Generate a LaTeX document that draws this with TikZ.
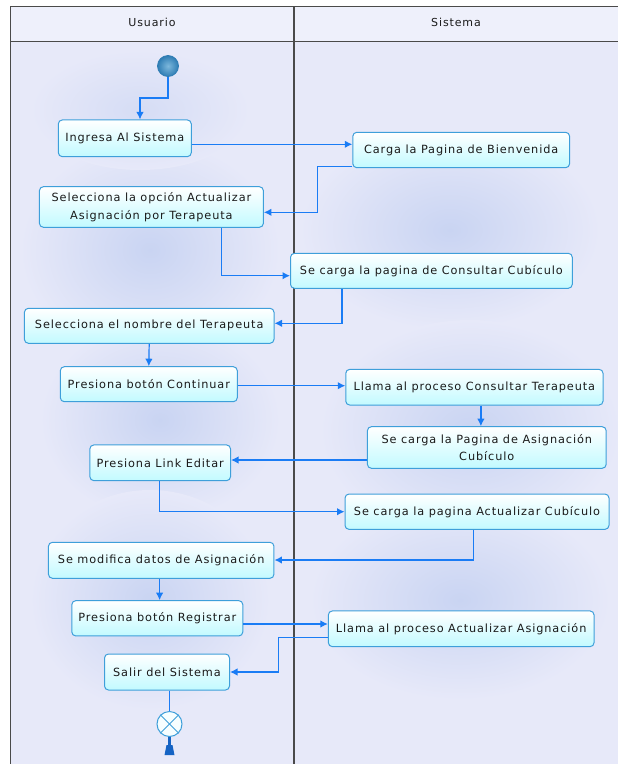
\documentclass[tikz,border=0pt]{standalone}
\usepackage{fontspec}
\setmainfont{DejaVu Sans}[LetterSpace=8]
\usetikzlibrary{arrows.meta,calc}
\definecolor{bgc}{HTML}{E7E9F9}
\definecolor{hdrc}{HTML}{EEF0FB}
\definecolor{blobc}{HTML}{C9D4F2}
\definecolor{framec}{HTML}{4A4A4A}
\definecolor{boxb}{HTML}{3E9FDA}
\definecolor{boxf}{HTML}{C2FAFF}
\definecolor{arrc}{HTML}{1A7CF5}
\definecolor{startc}{HTML}{2F7DB4}
\definecolor{startl}{HTML}{7DB8DC}
\definecolor{txtc}{HTML}{1A1A1A}
\begin{document}
\begin{tikzpicture}[x=1pt,y=-1pt,
  act/.style={draw=boxb, line width=1pt, rounded corners=4pt,
    top color=white, bottom color=boxf, align=center, inner sep=0pt,
    text=txtc, font=\fontsize{11.3}{17.5}\selectfont},
  arr/.style={draw=arrc, line width=1.2pt, -{Latex[length=7.5pt,width=7.5pt]}},
  plain/.style={draw=arrc, line width=1.2pt},
  frame/.style={draw=framec, line width=1.3pt},
  hdr/.style={font=\fontsize{11}{12}\selectfont, inner sep=0pt, text=txtc}]
\useasboundingbox (0,0) rectangle (618,764);
\fill[white] (0,0) rectangle (618,764);
% lanes background
\fill[hdrc] (10.6,6.7) rectangle (618,41.7);
\fill[bgc] (10.6,41.7) rectangle (618,764);
\begin{scope}
\clip (10.6,41.7) rectangle (618,764);
\shade[inner color=blobc, outer color=bgc] (150,250) ellipse (130 and 110);
\shade[inner color=blobc, outer color=bgc] (160,420) ellipse (120 and 100);
\shade[inner color=blobc, outer color=bgc] (150,600) ellipse (120 and 110);
\shade[inner color=blobc, outer color=bgc] (450,230) ellipse (150 and 100);
\shade[inner color=blobc, outer color=bgc] (470,430) ellipse (150 and 110);
\shade[inner color=blobc, outer color=bgc] (460,600) ellipse (150 and 100);
\shade[inner color=blobc!60!bgc, outer color=bgc] (140,110) ellipse (110 and 60);
\end{scope}
% frame
\draw[frame] (618,6.7) -- (10.6,6.7) -- (10.6,764);
\draw[frame] (10.6,41.7) -- (618,41.7);
\draw[frame] (294,6.7) -- (294,764);
\node[hdr] (hu) at (152,22) {Usuario};
\node[hdr] (hs) at (456,22) {Sistema};
% start
\node[circle, draw=startc, line width=0.8pt, minimum size=21pt, inner sep=0pt,
  inner color=startl, outer color=startc] (start) at (168,66) {};
% activities
\node[act, minimum width=133pt, minimum height=36.7pt] (ingresa) at (124.8,138.3) {Ingresa Al Sistema};
\node[act, minimum width=216.8pt, minimum height=35.4pt] (carga) at (461.2,150) {Carga la Pagina de Bienvenida};
\node[act, minimum width=224pt, minimum height=40.6pt] (selop) at (151.4,207) {Selecciona la opción Actualizar\\Asignación por Terapeuta};
\node[act, minimum width=281.8pt, minimum height=35pt] (consult) at (431.4,270.8) {Se carga la pagina de Consultar Cubículo};
\node[act, minimum width=249.6pt, minimum height=35pt] (selnom) at (149.2,325.8) {Selecciona el nombre del Terapeuta};
\node[act, minimum width=177pt, minimum height=35pt] (contin) at (148.8,384.2) {Presiona botón Continuar};
\node[act, minimum width=257.3pt, minimum height=35.7pt] (llamacons) at (474.4,387.2) {Llama al proceso Consultar Terapeuta};
\node[act, minimum width=238.8pt, minimum height=41.6pt] (asig) at (486.8,447.5) {Se carga la Pagina de Asignación\\Cubículo};
\node[act, minimum width=140.7pt, minimum height=35.7pt] (link) at (160.2,462.8) {Presiona Link Editar};
\node[act, minimum width=264pt, minimum height=35.3pt] (actcub) at (477,511.7) {Se carga la pagina Actualizar Cubículo};
\node[act, minimum width=225.5pt, minimum height=36pt] (modif) at (161.2,560.3) {Se modifica datos de Asignación};
\node[act, minimum width=171pt, minimum height=35.3pt] (regist) at (157.3,618.3) {Presiona botón Registrar};
\node[act, minimum width=265.7pt, minimum height=35.7pt] (llamaact) at (461.2,628.8) {Llama al proceso Actualizar Asignación};
\node[act, minimum width=125pt, minimum height=36pt] (salir) at (167,672) {Salir del Sistema};
% end node
\node[circle, draw=boxb, line width=1pt, minimum size=25pt, inner sep=0pt,
  fill=white!85!boxf] (fin) at (169.5,724) {};
\draw[boxb, line width=1pt] (fin.north west) -- (fin.south east);
\draw[boxb, line width=1pt] (fin.north east) -- (fin.south west);
% coordinates
\coordinate (k1) at (140,98);
\coordinate (k2) at (317.3,212.3);
\coordinate (k3) at (221.5,275.7);
\coordinate (k4) at (342,323.3);
\coordinate (k5) at (0,385.7);
\coordinate (k6) at (480.9,0);
\coordinate (k7) at (0,460);
\coordinate (k8) at (159.6,511.7);
\coordinate (k9) at (473.8,560);
\coordinate (k10) at (159.6,0);
\coordinate (k11) at (0,624);
\coordinate (k12) at (278.7,637.3);
\coordinate (k0) at (0,144.3);
% connectors
\draw[arr] (start.south) |- (k1) -- (k1 |- ingresa.north);
\draw[arr] (ingresa.east |- k0) -- (carga.west |- k0);
\draw[arr] ([yshift=2pt]carga.south west) -| (k2) -- (k2 -| selop.east);
\draw[arr] (k3 |- selop.south) -- (k3) -- (k3 -| consult.west);
\draw[arr] (k4 |- consult.south) -- (k4) -- (k4 -| selnom.east);
\draw[arr] (selnom.south) -- (contin.north);
\draw[arr] (contin.east |- k5) -- (llamacons.west |- k5);
\draw[arr] (k6 |- llamacons.south) -- (k6 |- asig.north);
\draw[arr] (asig.west |- k7) -- (link.east |- k7);
\draw[arr] (k8 |- link.south) -- (k8) -- (actcub.west);
\draw[arr] (k9 |- actcub.south) -- (k9) -- (modif.east |- k9);
\draw[arr] (k10 |- modif.south) -- (k10 |- regist.north);
\draw[arr] (regist.east |- k11) -- (llamaact.west |- k11);
\draw[arr] (llamaact.west |- k12) -- (k12) |- (salir.east);
\draw[plain] (salir.south -| fin.north) -- (fin.north);
% stub below end node
\fill[arrc!80!black] (168,737) rectangle (171,745);
\fill[arrc!80!black] (166.5,745) -- (172.5,745) -- (174.5,755) -- (164.5,755) -- cycle;
\end{tikzpicture}
\end{document}
